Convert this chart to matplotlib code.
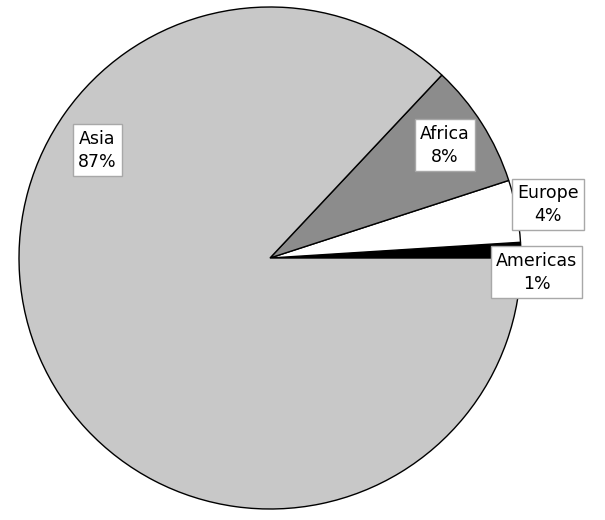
import matplotlib
matplotlib.use("Agg")
import matplotlib.pyplot as plt

# data (counterclockwise from 3 o'clock)
regions = ["Americas", "Europe", "Africa", "Asia"]
shares = [1, 4, 8, 87]
colours = ["#000000", "#ffffff", "#8c8c8c", "#c8c8c8"]

# label box centres, in pie radius units
label_pos = [(1.062, -0.056), (1.106, 0.213), (0.697, 0.450), (-0.687, 0.430)]

fig = plt.figure(figsize=(6.05, 5.20), dpi=100)
ax = fig.add_axes([0, 0, 1, 1])

ax.pie(shares, colors=colours, startangle=0, counterclock=True,
       radius=1, center=(0, 0),
       wedgeprops=dict(edgecolor="black", linewidth=1.0))

for name, val, (x, y) in zip(regions, shares, label_pos):
    ax.text(x, y, "%s\n%d%%" % (name, val), ha="center", va="center",
            fontsize=12.5, family="DejaVu Sans", linespacing=1.35,
            bbox=dict(boxstyle="square,pad=0.3", facecolor="white",
                      edgecolor="#a8a8a8", linewidth=1.0))

# 251 px per radius, centre at (270, 258) px
ax.set_xlim(-270 / 251, (605 - 270) / 251)
ax.set_ylim(-(520 - 258) / 251, 258 / 251)
ax.set_aspect("auto")
ax.axis("off")

fig.savefig("out.png", dpi=100, facecolor="white")
